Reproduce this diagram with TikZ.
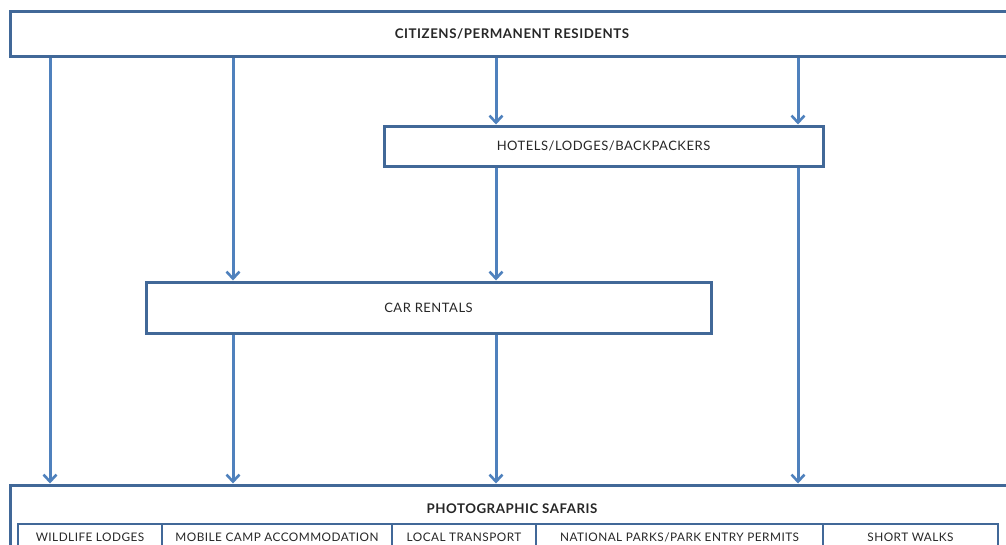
\documentclass[tikz,border=0pt]{standalone}
\usepackage{fontspec}
\setmainfont[LetterSpace=4]{Lato}
\usetikzlibrary{arrows.meta}
\definecolor{boxblue}{RGB}{65,104,152}
\definecolor{arrblue}{RGB}{79,129,189}

\begin{document}
\begin{tikzpicture}[x=1pt,y=-1pt,
    box/.style={draw=boxblue, line width=3pt, inner sep=0pt, font=\fontsize{13}{15}\selectfont, text=black!85},
    cell/.style={box, minimum height=26pt, line width=2.6pt, font=\fontsize{11.8}{14}\selectfont},
    arr/.style={draw=arrblue, line width=3pt, -{Straight Barb[length=7pt,width=13pt,line width=2.6pt]}}]
    \useasboundingbox (0,0) rectangle (1006,544);
    \clip (0,0) rectangle (1006,544);

    % boxes
    \node[box, minimum width=1004pt, minimum height=45pt, font=\bfseries\fontsize{13.3}{15}\selectfont] (cit) at (512,34) {CITIZENS/PERMANENT RESIDENTS};
    \node[box, minimum width=439pt, minimum height=40pt] (hot) at (603.5,146) {HOTELS/LODGES/BACKPACKERS};
    \node[box, minimum width=565pt, minimum height=51pt] (car) at (428.5,307.5) {CAR RENTALS};
    \node[box, minimum width=1004pt, minimum height=80pt] (saf) at (512,525) {};
    \node[font=\bfseries\fontsize{13.3}{15}\selectfont, text=black!85] (saftitle) at (512,509) {PHOTOGRAPHIC SAFARIS};

    % cells of the safari box
    \node[cell, minimum width=144pt] (c1) at (90,537) {WILDLIFE LODGES};
    \node[cell, minimum width=230pt] (c2) at (277,537) {MOBILE CAMP ACCOMMODATION};
    \node[cell, minimum width=144pt] (c3) at (464,537) {LOCAL TRANSPORT};
    \node[cell, minimum width=287pt] (c4) at (679.5,537) {NATIONAL PARKS/PARK ENTRY PERMITS};
    \node[cell, minimum width=175pt] (c5) at (910.5,537) {SHORT WALKS};

    % columns of the arrows
    \coordinate (xa) at (50,0);
    \coordinate (xb) at (233,0);
    \coordinate (xc) at (496,0);
    \coordinate (xd) at (798,0);

    \draw[arr] (cit.south -| xa) -- (saf.north -| xa);
    \draw[arr] (cit.south -| xb) -- (car.north -| xb);
    \draw[arr] (cit.south -| xc) -- (hot.north -| xc);
    \draw[arr] (cit.south -| xd) -- (hot.north -| xd);
    \draw[arr] (hot.south -| xc) -- (car.north -| xc);
    \draw[arr] (hot.south -| xd) -- (saf.north -| xd);
    \draw[arr] (car.south -| xb) -- (saf.north -| xb);
    \draw[arr] (car.south -| xc) -- (saf.north -| xc);
\end{tikzpicture}
\end{document}
